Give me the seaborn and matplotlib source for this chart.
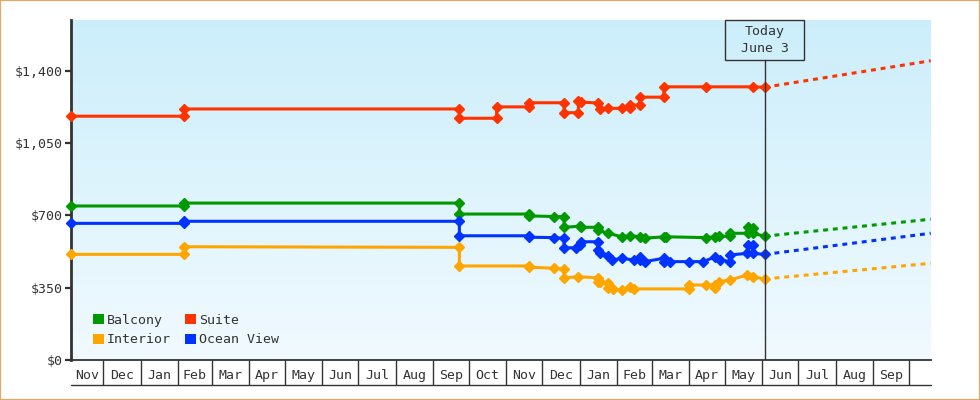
import matplotlib
matplotlib.use('Agg')

import numpy as np
import pandas as pd
import seaborn as sns
import matplotlib.pyplot as plt
import matplotlib.dates as mdates
from matplotlib.patches import Patch, Rectangle
from matplotlib.ticker import FixedLocator, NullFormatter

# --- data ---
cabins = ['Balcony', 'Interior', 'Suite', 'Ocean View']
colors = {'Balcony': '#009900', 'Interior': '#ffa500',
          'Suite': '#ff3300', 'Ocean View': '#0033ff'}

suite_dates = ['2022-11-04', '2023-02-06', '2023-02-06', '2023-09-23', '2023-09-23',
               '2023-10-24', '2023-10-24', '2023-11-20', '2023-11-20', '2023-12-19',
               '2023-12-19', '2023-12-31', '2023-12-31', '2024-01-02', '2024-01-16',
               '2024-01-18', '2024-01-25', '2024-02-05', '2024-02-12', '2024-02-12',
               '2024-02-20', '2024-02-20', '2024-03-11', '2024-03-11', '2024-04-15',
               '2024-05-24', '2024-06-03']
suite_prices = [1180, 1180, 1215, 1215, 1170,
                1170, 1225, 1225, 1245, 1245,
                1197, 1197, 1252, 1248, 1244,
                1215, 1218, 1218, 1218, 1234,
                1234, 1272, 1272, 1322, 1322,
                1322, 1320]

balcony_dates = ['2022-11-04', '2023-02-06', '2023-02-06', '2023-09-23', '2023-09-23',
                 '2023-11-20', '2023-11-20', '2023-12-11', '2023-12-19', '2023-12-19',
                 '2024-01-01', '2024-01-02', '2024-01-16', '2024-01-16', '2024-01-25',
                 '2024-02-05', '2024-02-12', '2024-02-20', '2024-02-24', '2024-03-11',
                 '2024-03-13', '2024-04-15', '2024-04-23', '2024-04-26', '2024-05-05',
                 '2024-05-05', '2024-05-20', '2024-05-20', '2024-05-24', '2024-05-24',
                 '2024-06-03']
balcony_prices = [746, 746, 760, 760, 707,
                  707, 698, 695, 694, 643,
                  648, 643, 643, 628, 614,
                  597, 602, 598, 590, 597,
                  597, 593, 597, 600, 600,
                  614, 614, 643, 638, 614,
                  600]

ocean_dates = ['2022-11-04', '2023-02-06', '2023-02-06', '2023-09-23', '2023-09-23',
               '2023-11-20', '2023-11-20', '2023-12-11', '2023-12-19', '2023-12-19',
               '2023-12-29', '2024-01-01', '2024-01-02', '2024-01-16', '2024-01-16',
               '2024-01-18', '2024-01-25', '2024-01-28', '2024-02-05', '2024-02-15',
               '2024-02-20', '2024-02-20', '2024-02-24', '2024-03-11', '2024-03-11',
               '2024-03-16', '2024-04-01', '2024-04-13', '2024-04-23', '2024-04-27',
               '2024-05-05', '2024-05-05', '2024-05-19', '2024-05-20', '2024-05-24',
               '2024-05-24', '2024-06-03']
ocean_prices = [662, 662, 672, 672, 602,
                602, 595, 593, 590, 544,
                544, 557, 573, 573, 533,
                517, 505, 485, 493, 485,
                485, 501, 477, 493, 477,
                477, 477, 477, 501, 485,
                477, 509, 517, 557, 557,
                517, 512]

interior_dates = ['2022-11-04', '2023-02-06', '2023-02-06', '2023-09-23', '2023-09-23',
                  '2023-11-20', '2023-11-20', '2023-12-11', '2023-12-19', '2023-12-19',
                  '2023-12-31', '2024-01-16', '2024-01-16', '2024-01-18', '2024-01-25',
                  '2024-01-25', '2024-01-29', '2024-02-05', '2024-02-12', '2024-02-15',
                  '2024-04-01', '2024-04-01', '2024-04-15', '2024-04-23', '2024-04-23',
                  '2024-04-26', '2024-05-05', '2024-05-19', '2024-05-24', '2024-06-03']
interior_prices = [512, 512, 549, 546, 456,
                   456, 450, 445, 441, 399,
                   404, 399, 377, 377, 372,
                   348, 345, 340, 356, 345,
                   345, 364, 364, 364, 348,
                   380, 388, 412, 404, 393]

today = '2024-06-03'
range_start = '2022-11-04'
range_end = '2024-10-19'
forecast_end = {'Balcony': 682, 'Interior': 469, 'Suite': 1448, 'Ocean View': 614}

y_ticks = [0, 350, 700, 1050, 1400]
y_max = 1645

# --- long table ---
frames = []
for name, d, p in [('Balcony', balcony_dates, balcony_prices),
                   ('Interior', interior_dates, interior_prices),
                   ('Suite', suite_dates, suite_prices),
                   ('Ocean View', ocean_dates, ocean_prices)]:
    frames.append(pd.DataFrame({'date': pd.to_datetime(d), 'price': p, 'cabin': name}))
df = pd.concat(frames, ignore_index=True)

last = df[df['date'] == pd.Timestamp(today)].groupby('cabin')['price'].last()
fc = []
for name in cabins:
    fc.append({'date': pd.Timestamp(today), 'price': last[name], 'cabin': name})
    fc.append({'date': pd.Timestamp(range_end), 'price': forecast_end[name], 'cabin': name})
fc = pd.DataFrame(fc)

# --- style ---
sns.set_style('white')
plt.rcParams['font.family'] = ['DejaVu Sans Mono', 'DejaVu Sans']
ink = '#333333'

fig = plt.figure(figsize=(9.8, 4), dpi=100)
ax = fig.add_axes([71 / 980, 1 - 360.3 / 400, (930.7 - 71) / 980, (360.3 - 20) / 400])

# background gradient
grad = np.linspace(0, 1, 256).reshape(-1, 1)
top = np.array([204, 238, 251]) / 255
bot = np.array([241, 250, 255]) / 255
img = top + (bot - top) * grad[:, :, None]
ax.imshow(img, extent=[0, 1, 0, 1], transform=ax.transAxes, aspect='auto', zorder=0)

sns.lineplot(data=fc, x='date', y='price', hue='cabin', palette=colors,
             estimator=None, sort=False, linewidth=2.2,
             linestyle=(0, (1.6, 1.6)), legend=False, ax=ax, zorder=3)
n_fc = len(ax.lines)
sns.lineplot(data=df, x='date', y='price', hue='cabin', palette=colors,
             estimator=None, sort=False, linewidth=2.2, marker='D',
             markersize=4.6, markeredgewidth=1.0, legend=False, ax=ax, zorder=4)
# diamonds filled solid in the series colour, not cut at the axis edge
for ln in ax.lines[n_fc:]:
    ln.set_markeredgecolor(ln.get_color())
    ln.set_clip_on(False)

t0 = mdates.date2num(pd.Timestamp(range_start))
t1 = mdates.date2num(pd.Timestamp(range_end))
tn = mdates.date2num(pd.Timestamp(today))
ax.set_xlim(t0, t1)
ax.set_ylim(0, y_max)

# today marker
box_bottom = (360.3 - 60) / 340.3
ax.axvline(tn, ymin=0, ymax=box_bottom, color=ink, lw=1, zorder=5)
ax.add_patch(Rectangle((tn - 33, box_bottom), 66, 1 - box_bottom,
                       transform=ax.get_xaxis_transform(), fill=False,
                       edgecolor=ink, lw=1, zorder=5, clip_on=False))
ax.text(tn, (box_bottom + 1) / 2, 'Today\nJune 3', ha='center', va='center',
        fontsize=9.5, color=ink, linespacing=1.4, transform=ax.get_xaxis_transform(),
        zorder=6)

# y axis
ax.set_yticks(y_ticks)
ax.set_yticklabels(['${:,}'.format(v) for v in y_ticks])
ax.tick_params(axis='y', direction='out', length=4.5, width=1.6, color=ink,
               labelsize=9.5, labelcolor=ink, pad=1.5, left=True)
ax.set_ylabel('')
ax.set_xlabel('')

# month cells on x axis
month_starts = pd.date_range(pd.Timestamp(range_start) + pd.offsets.MonthBegin(0),
                             pd.Timestamp(range_end), freq='MS')
edges = [pd.Timestamp(range_start)] + list(month_starts) + [pd.Timestamp(range_end)]
mids, labels = [], []
for a, b in zip(edges[:-1], edges[1:]):
    if (b - a).days >= 20:
        mids.append(mdates.date2num(a + (b - a) / 2))
        labels.append(a.strftime('%b'))
ax.xaxis.set_major_locator(FixedLocator(mids))
ax.set_xticklabels(labels)
ax.xaxis.set_minor_locator(FixedLocator([mdates.date2num(m) for m in month_starts]))
ax.xaxis.set_minor_formatter(NullFormatter())
ax.tick_params(axis='x', which='major', length=0, labelsize=9.5, labelcolor=ink, pad=6)
ax.tick_params(axis='x', which='minor', direction='out', length=18, width=1,
               color=ink, bottom=True)
ax.plot([0, 1], [-25 / 340.3] * 2, transform=ax.transAxes, color=ink, lw=1,
        clip_on=False)

for s in ['top', 'right']:
    ax.spines[s].set_visible(False)
ax.spines['left'].set_color(ink)
ax.spines['left'].set_linewidth(2)
ax.spines['bottom'].set_color(ink)
ax.spines['bottom'].set_linewidth(1.3)
ax.grid(False)

# legend
handles = [Patch(facecolor=colors[c], edgecolor='none', label=c) for c in cabins]
leg = ax.legend(handles=handles, ncol=2, loc='lower left',
                bbox_to_anchor=(22 / 859.7, 14 / 340.3), frameon=False,
                borderpad=0, borderaxespad=0, handlelength=0.8, handleheight=0.8,
                handletextpad=0.25, columnspacing=1.1, labelspacing=0.5,
                fontsize=9.5)
for t in leg.get_texts():
    t.set_color(ink)

fig.patches.append(Rectangle((0, 0), 1, 1, transform=fig.transFigure, fill=False,
                             edgecolor='#e6a865', lw=1.6))

fig.savefig('out.png', dpi=100)
